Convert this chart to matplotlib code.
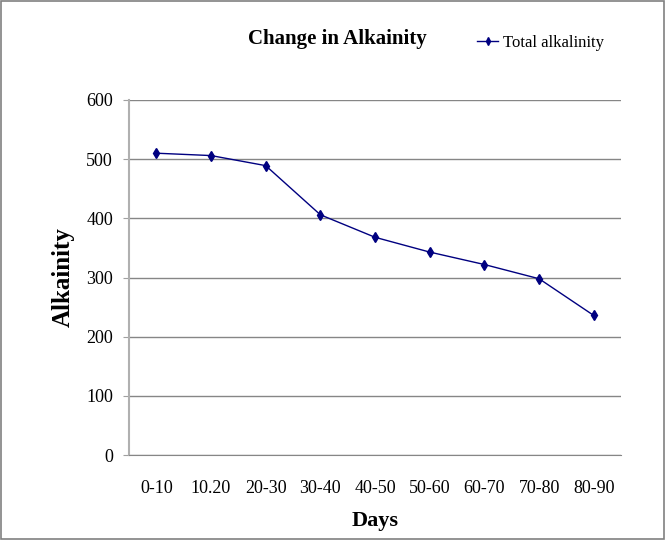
import matplotlib.pyplot as plt
import numpy as np

plt.rcParams['font.family'] = ['Liberation Serif', 'DejaVu Serif']

days = ['0-10', '10.20', '20-30', '30-40', '40-50', '50-60', '60-70', '70-80', '80-90']
alkalinity = [510, 506, 489, 406, 368, 343, 322, 298, 236]

fig = plt.figure(figsize=(6.65, 5.4), dpi=100)
ax = fig.add_axes([0.194, 0.157, 0.740, 0.658])

x = np.arange(len(days))
line, = ax.plot(x, alkalinity, color='#000080', lw=1.0, marker='d', ms=5.5,
                label='Total alkalinity')

ax.set_xlim(-0.5, len(days) - 0.5)
ax.set_ylim(0, 600)
ax.set_yticks(range(0, 601, 100))
ax.set_xticks(x)
ax.set_xticklabels(days)
ax.tick_params(axis='y', labelsize=13, length=4.5, color='#a0a0a0', pad=7)
ax.tick_params(axis='x', labelsize=13, length=0, pad=18)

ax.grid(axis='y', color='#868686', lw=1)
ax.set_axisbelow(True)
for side in ['top', 'right']:
    ax.spines[side].set_visible(False)
ax.spines['bottom'].set_color('#868686')
ax.spines['left'].set_color('#b0b0b0')
ax.spines['left'].set_linewidth(1.5)

ax.set_xlabel('Days', fontsize=16, fontweight='bold', labelpad=10)
ax.set_ylabel('Alkainity', fontsize=18, fontweight='bold', labelpad=8)

fig.text(0.507, 0.9185, 'Change in Alkainity', fontsize=15, fontweight='bold',
         ha='center', va='baseline')
fig.legend(handles=[line], loc='center left', bbox_to_anchor=(0.717, 0.921),
           frameon=False, fontsize=12, handlelength=1.3, handletextpad=0.3,
           markerscale=0.75, borderpad=0, borderaxespad=0)

# рамка вокруг всей картинки
fig.patches.append(plt.Rectangle((0.002, 0.002), 0.996, 0.996, transform=fig.transFigure,
                                 fill=False, edgecolor='#808080', lw=1.2))

fig.savefig('out.png', dpi=100)
